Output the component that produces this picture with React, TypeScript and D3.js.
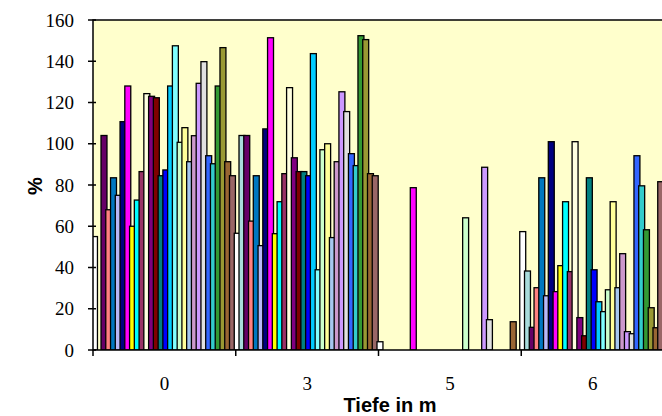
import React from "react";
import * as d3 from "d3";

const categories = ["0", "3", "5", "6"];

const seriesColors = [
  "#FFFFFF", "#A8DCDC", "#660066", "#FF8080", "#0077C0", "#B8B8F8",
  "#000080", "#FF00FF", "#FFFF00", "#00FFFF", "#993366", "#FFFFE0",
  "#800080", "#800000", "#008080", "#0000FF", "#00CCFF", "#80FFFF",
  "#CCFFCC", "#FFFF99", "#A6C8F0", "#CC99CC", "#CC99FF", "#E0E0E0",
  "#3366FF", "#33CCCC", "#339933", "#999933", "#996633", "#996666",
];

const depth0 = [
  55, 0, 104, 68, 83.5, 75, 110.7, 128, 60, 72.7, 86.5, 124.3, 123, 122.3, 84.5,
  87.3, 128, 147.5, 100.7, 107.8, 91.3, 103.9, 129.3, 139.8, 94.2, 90.3, 128, 146.6,
  91.3, 84.5,
];
const depth3 = [
  56.6, 104, 104, 62.5, 84.5, 50.6, 107.2, 151.4, 56.4, 71.9, 85.5, 127.2, 93.2, 86.5,
  86.5, 84.5, 143.7, 38.9, 97.1, 100, 54.5, 91.3, 125.2, 115.6, 95.2, 89.4, 152.4,
  150.5, 85.5, 84.5,
];
const depth5 = [
  4, 0, 0, 0, 0, 0, 0, 78.7, 0, 0, 0, 0, 0, 0, 0, 0, 0, 0, 64.1, 0, 0, 0, 88.6, 14.7,
  0, 0, 0, 0, 13.7, 0,
];
const depth6 = [
  57.4, 38.3, 11, 30.2, 83.5, 26.3, 101, 28.3, 40.9, 71.9, 38, 101, 15.7, 6.9, 83.5,
  38.9, 23.4, 18.6, 29.2, 71.9, 30.2, 46.7, 8.9, 7.9, 94.2, 79.6, 58.3, 20.5, 10.8,
  81.6,
];
const yTicks = [0, 20, 40, 60, 80, 100, 120, 140, 160];

const valuesByCategory = [depth0, depth3, depth5, depth6];

export default function App() {
  const W = 662;
  const H = 416;
  const left = 93;
  const right = 664;
  const top = 20;
  const bottom = 350;

  const x = d3.scaleBand<string>().domain(categories).range([left, right]).padding(0);
  const y = d3.scaleLinear().domain([0, 160]).range([bottom, top]);
  const idx = seriesColors.map((_, i) => String(i));
  const bw = x.bandwidth();
  const inner = d3.scaleBand<string>().domain(idx).range([-1.5, bw - 1.5]).padding(0);
  const barW = inner.bandwidth() + 1.2;

  const serif = "'Liberation Serif', 'Times New Roman', serif";
  const sans = "'Liberation Sans', Arial, sans-serif";

  return (
    <div style={{ position: "fixed", left: 0, top: 0, width: W, height: H, background: "#fff" }}>
      <svg width={W} height={H} style={{ display: "block" }}>
        <defs>
          <clipPath id="plotClip">
            <rect x={left} y={top} width={right - left} height={bottom - top} />
          </clipPath>
        </defs>
        <rect x={left} y={top} width={right - left} height={bottom - top} fill="#FFFFCC" />
        <g clipPath="url(#plotClip)">
          {categories.map((c, ci) =>
            valuesByCategory[ci].map((v, si) =>
              v > 0 ? (
                <rect
                  key={c + "-" + si}
                  x={(x(c) as number) + (inner(String(si)) as number)}
                  y={y(v)}
                  width={barW}
                  height={y(0) - y(v)}
                  fill={seriesColors[si]}
                  stroke="#000"
                  strokeWidth={1.3}
                />
              ) : null
            )
          )}
        </g>
        <rect x={left} y={top} width={right - left} height={bottom - top} fill="none" stroke="#000" strokeWidth={1.5} />
        {yTicks.map((t) => (
          <g key={t}>
            <line x1={left - 5} x2={left + 3} y1={y(t)} y2={y(t)} stroke="#000" strokeWidth={1.5} />
            <text x={74} y={y(t)} dy="0.35em" textAnchor="end" fontFamily={serif} fontSize={19}>
              {t}
            </text>
          </g>
        ))}
        {categories.map((c) => (
          <line key={"t" + c} x1={x(c) as number} x2={x(c) as number} y1={bottom} y2={bottom + 6} stroke="#000" strokeWidth={1.5} />
        ))}
        {categories.map((c) => (
          <text key={"l" + c} x={(x(c) as number) + bw / 2} y={390} textAnchor="middle" fontFamily={serif} fontSize={19}>
            {c}
          </text>
        ))}
        <text x={390} y={412} textAnchor="middle" fontFamily={sans} fontWeight="bold" fontSize={20}>
          Tiefe in m
        </text>
        <text
          transform="translate(42,186) rotate(-90)"
          textAnchor="middle"
          fontFamily={sans}
          fontWeight="bold"
          fontSize={20}
        >
          %
        </text>
      </svg>
    </div>
  );
}
